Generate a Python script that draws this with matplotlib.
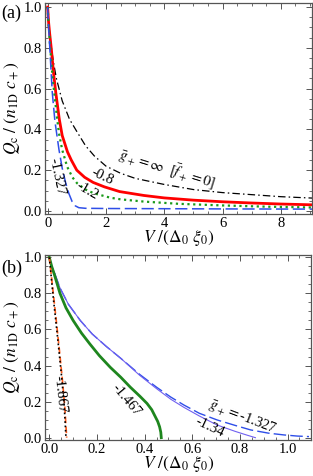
import matplotlib
matplotlib.use('Agg')
import matplotlib.pyplot as plt
from matplotlib.ticker import MultipleLocator

plt.rcParams['font.family'] = ['Liberation Serif', 'DejaVu Serif']
plt.rcParams['mathtext.fontset'] = 'stix'

# panel (a) curves
va_inf = [0, 0.05, 0.1, 0.2, 0.3, 0.5, 0.75, 1.0, 1.3, 1.6, 2.0, 2.5, 3.0, 4.0, 5.0, 6.0, 7.0, 8.0, 9.1]
qa_inf = [1.0, 0.9, 0.83, 0.73, 0.65, 0.54, 0.45, 0.39, 0.32, 0.27, 0.22, 0.185, 0.16, 0.13, 0.105, 0.09, 0.08, 0.07, 0.063]

va_08 = [0, 0.03, 0.07, 0.13, 0.2, 0.28, 0.4, 0.5, 0.68, 0.81, 1.0, 1.27, 1.56, 1.95, 2.47, 3.3, 4.0, 5.0, 6.0, 7.0, 8.0, 9.1]
qa_08 = [1.0, 0.93, 0.87, 0.79, 0.68, 0.58, 0.45, 0.37, 0.29, 0.25, 0.2, 0.165, 0.14, 0.118, 0.095, 0.076, 0.064, 0.053, 0.045, 0.039, 0.034, 0.03]

va_12 = [0, 0.03, 0.07, 0.12, 0.18, 0.25, 0.32, 0.39, 0.5, 0.67, 0.85, 1.01, 1.3, 1.58, 2.15, 2.5, 3.3, 4.5, 6.0, 7.5, 9.1]
qa_12 = [1.0, 0.92, 0.84, 0.74, 0.64, 0.55, 0.46, 0.38, 0.3, 0.217, 0.165, 0.136, 0.105, 0.087, 0.065, 0.057, 0.046, 0.035, 0.027, 0.021, 0.017]

va_1327 = [0, 0.03, 0.07, 0.12, 0.16, 0.25, 0.39, 0.5, 0.62, 0.73, 0.84, 0.95, 1.07, 1.3, 2.0, 4.0, 6.0, 9.1]
qa_1327 = [1.0, 0.91, 0.81, 0.68, 0.58, 0.44, 0.3, 0.21, 0.137, 0.085, 0.046, 0.025, 0.016, 0.013, 0.012, 0.011, 0.01, 0.009]

# panel (b) curves
vb_1327 = [0, 0.01, 0.02, 0.045, 0.08, 0.13, 0.18, 0.24, 0.3, 0.38, 0.45, 0.51, 0.565, 0.63, 0.705, 0.78, 0.845, 0.92, 0.986, 1.04, 1.09]
qb_1327 = [1.0, 0.95, 0.92, 0.83, 0.74, 0.65, 0.575, 0.505, 0.44, 0.35, 0.28, 0.225, 0.181, 0.135, 0.098, 0.068, 0.043, 0.025, 0.015, 0.009, 0.006]

vb_134 = [0, 0.01, 0.02, 0.045, 0.08, 0.13, 0.18, 0.24, 0.3, 0.38, 0.45, 0.51, 0.565, 0.63, 0.705, 0.78, 0.83, 0.865]
qb_134 = [1.0, 0.95, 0.92, 0.83, 0.74, 0.65, 0.575, 0.505, 0.44, 0.345, 0.272, 0.213, 0.168, 0.12, 0.07, 0.035, 0.014, 0.0]

vb_1467 = [0, 0.01, 0.02, 0.045, 0.07, 0.1, 0.135, 0.17, 0.21, 0.256, 0.3, 0.34, 0.38, 0.41, 0.43, 0.445, 0.455, 0.463, 0.468, 0.47]
qb_1467 = [1.0, 0.95, 0.91, 0.8, 0.72, 0.65, 0.58, 0.52, 0.455, 0.39, 0.335, 0.28, 0.23, 0.19, 0.155, 0.116, 0.09, 0.06, 0.03, 0.0]

vb_1867 = [0, 0.01, 0.02, 0.03, 0.042, 0.055, 0.065, 0.073]
qb_1867 = [1.0, 0.88, 0.76, 0.64, 0.49, 0.32, 0.17, 0.0]
vb_1867_dot = [0, 0.009, 0.018, 0.028, 0.04, 0.053, 0.063, 0.07]

xlab = r'$V\ /(\Delta_0\ \xi_0)$'
ylab = r'$Q_{\rm c}\ /\ (n_{\rm 1D}\ c_+)$'


def styleAxes(ax):
    ax.tick_params(which='both', direction='in', top=True, right=True, labelsize=10.5, color='#555555')
    ax.tick_params(which='major', length=4, width=0.7, pad=2)
    ax.tick_params(which='minor', length=2.2, width=0.6)
    for s in ax.spines.values():
        s.set_color('#555555')
        s.set_linewidth(0.9)
    ax.set_ylabel(ylab, fontsize=12.5)
    ax.yaxis.set_label_coords(-0.086, 0.5)
    ax.set_xlabel(xlab, fontsize=12.5, labelpad=-1)
    ax.yaxis.set_major_locator(MultipleLocator(0.2))
    ax.yaxis.set_minor_locator(MultipleLocator(0.05))
    ax.yaxis.set_major_formatter(lambda y, p: f'{y:.1f}')


fig = plt.figure(figsize=(3.13, 4.76), dpi=100)
axa = fig.add_axes([0.1438, 0.5504, 0.853, 0.4433])
axb = fig.add_axes([0.1438, 0.0756, 0.851, 0.3887])

# (a)
axa.plot(va_inf, qa_inf, color='black', lw=0.9, dashes=[6, 2.5, 1.2, 2.5])
axa.plot(va_08, qa_08, color='red', lw=2)
axa.plot(va_12, qa_12, color='#1a9a1a', lw=1.6, linestyle=(0, (1, 1.6)))
axa.plot(va_1327, qa_1327, color='#2e4ee8', lw=1.1, dashes=[8, 3])
axa.set_xlim(-0.09, 9.07)
axa.set_ylim(-0.015, 1.02)
axa.xaxis.set_major_locator(MultipleLocator(2))
axa.xaxis.set_minor_locator(MultipleLocator(0.5))
styleAxes(axa)

lab = dict(fontsize=10.5, ha='center', va='center', rotation_mode='anchor')
axa.text(0.31, 0.17, '-1.327', rotation=-78, **lab)
axa.text(1.36, 0.1, '-1.2', rotation=-30, **lab)
axa.text(1.88, 0.17, '-0.8', rotation=-25, **lab)
axa.text(4.1, 0.205, r'$\bar{g}_+ = \infty\ \ [\bar{f}_+ = 0]$', rotation=-17, **lab)

# (b)
axb.plot(vb_1327, qb_1327, color='#2e4ee8', lw=1.0, dashes=[9, 3])
axb.plot(vb_134, qb_134, color='#7060f0', lw=0.8)
axb.plot(vb_1467, qb_1467, color='#1e861e', lw=2)
axb.plot(vb_1867, qb_1867, color='#ff5a1a', lw=1.2, dashes=[4, 2])
axb.plot(vb_1867_dot, qb_1867, color='black', lw=1.2, linestyle=(0, (1, 1.6)))
axb.set_xlim(-0.018, 1.10)
axb.set_ylim(-0.013, 1.013)
axb.xaxis.set_major_locator(MultipleLocator(0.2))
axb.xaxis.set_minor_locator(MultipleLocator(0.05))
styleAxes(axb)

axb.text(0.046, 0.24, '-1.867', rotation=-84, **lab)
axb.text(0.325, 0.21, '-1.467', rotation=-50, **lab)
axb.text(0.675, 0.056, '-1.34', rotation=-25, **lab)
axb.text(0.81, 0.115, r'$\bar{g}_+ = $-1.327', rotation=-21, **lab)

fig.text(0.005, 0.99, '(a)', fontsize=13, ha='left', va='top')
fig.text(0.005, 0.455, '(b)', fontsize=13, ha='left', va='top')

fig.savefig('out.png', dpi=100)
